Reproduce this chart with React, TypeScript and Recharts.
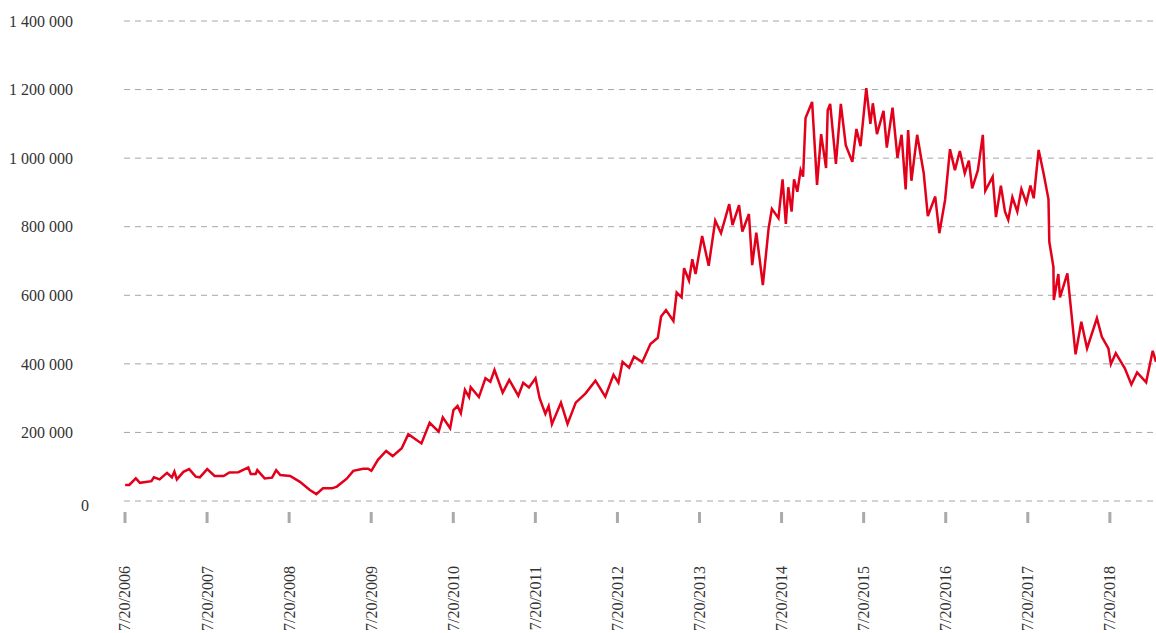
import { LineChart, Line, XAxis, YAxis, CartesianGrid } from 'recharts';

// decimal years (7/20/2006 = 2006.548)
const years = [
    2006.55, 2006.6, 2006.68, 2006.73, 2006.87, 2006.9, 2006.97, 2007.06, 2007.12, 2007.15, 2007.18, 2007.26, 2007.33, 2007.41, 2007.46, 2007.55, 2007.64, 2007.75, 2007.82, 2007.93,
    2008.05, 2008.08, 2008.14, 2008.16, 2008.25, 2008.34, 2008.39, 2008.44, 2008.56, 2008.68, 2008.8, 2008.88, 2008.96, 2009.07, 2009.13, 2009.25, 2009.33, 2009.45, 2009.51, 2009.55,
    2009.63, 2009.73, 2009.81, 2009.92, 2010.0, 2010.16, 2010.26, 2010.37, 2010.42, 2010.51, 2010.55, 2010.6, 2010.64, 2010.69, 2010.74, 2010.76, 2010.86, 2010.94, 2011.0, 2011.05,
    2011.15, 2011.23, 2011.34, 2011.4, 2011.47, 2011.55, 2011.6, 2011.67, 2011.71, 2011.75, 2011.86, 2011.94, 2012.04, 2012.16, 2012.28, 2012.4, 2012.5, 2012.56, 2012.61, 2012.69,
    2012.75, 2012.85, 2012.95, 2013.04, 2013.08, 2013.14, 2013.23, 2013.27, 2013.33, 2013.36, 2013.42, 2013.46, 2013.5, 2013.58, 2013.66, 2013.74, 2013.81, 2013.91, 2013.95, 2014.03,
    2014.07, 2014.15, 2014.19, 2014.24, 2014.32, 2014.39, 2014.43, 2014.51, 2014.56, 2014.6, 2014.63, 2014.67, 2014.7, 2014.74, 2014.78, 2014.81, 2014.84, 2014.92, 2014.98, 2015.03,
    2015.09, 2015.11, 2015.14, 2015.21, 2015.27, 2015.33, 2015.41, 2015.46, 2015.51, 2015.58, 2015.63, 2015.66, 2015.71, 2015.79, 2015.83, 2015.9, 2015.96, 2016.01, 2016.06, 2016.09,
    2016.13, 2016.2, 2016.28, 2016.33, 2016.42, 2016.47, 2016.54, 2016.6, 2016.66, 2016.72, 2016.78, 2016.83, 2016.87, 2016.94, 2017.0, 2017.03, 2017.12, 2017.16, 2017.22, 2017.27,
    2017.31, 2017.36, 2017.42, 2017.47, 2017.53, 2017.58, 2017.62, 2017.68, 2017.74, 2017.8, 2017.81, 2017.86, 2017.865, 2017.92, 2017.94, 2018.03, 2018.13, 2018.2, 2018.27, 2018.39,
    2018.45, 2018.53, 2018.56, 2018.62, 2018.73, 2018.81, 2018.88, 2018.99, 2019.07, 2019.11,
];

const values = [
    47000, 47000, 66000, 53000, 58000, 69000, 63000, 82000, 69000, 86000, 63000, 85000, 93000, 71000, 69000, 93000, 73000, 73000, 83000, 84000,
    98000, 79000, 79000, 90000, 66000, 68000, 90000, 76000, 73000, 56000, 32000, 20000, 37000, 37000, 42000, 65000, 88000, 94000, 94000, 88000,
    120000, 146000, 131000, 154000, 195000, 168000, 228000, 202000, 244000, 212000, 265000, 277000, 256000, 324000, 303000, 332000, 303000, 358000, 348000, 382000,
    316000, 353000, 307000, 345000, 331000, 358000, 300000, 254000, 277000, 224000, 287000, 225000, 287000, 314000, 351000, 304000, 368000, 345000, 406000, 389000,
    421000, 405000, 458000, 476000, 538000, 557000, 525000, 608000, 594000, 679000, 643000, 705000, 662000, 773000, 686000, 818000, 781000, 866000, 805000, 863000,
    786000, 837000, 688000, 783000, 630000, 795000, 852000, 825000, 938000, 808000, 915000, 844000, 938000, 902000, 965000, 946000, 1117000, 1164000, 922000, 1070000,
    971000, 1140000, 1158000, 983000, 1158000, 1038000, 989000, 1085000, 1035000, 1204000, 1100000, 1160000, 1070000, 1138000, 1031000, 1147000, 1001000, 1068000, 909000, 1082000,
    934000, 1068000, 956000, 831000, 888000, 781000, 878000, 1026000, 965000, 1021000, 956000, 993000, 912000, 965000, 1068000, 905000, 946000, 828000, 920000, 844000,
    820000, 886000, 844000, 910000, 870000, 920000, 883000, 1024000, 956000, 880000, 756000, 683000, 586000, 662000, 594000, 664000, 428000, 523000, 445000, 533000,
    479000, 445000, 399000, 431000, 387000, 340000, 375000, 346000, 438000, 406000,
];

const xTicks = [2006.548, 2007.548, 2008.548, 2009.548, 2010.548, 2011.548, 2012.548, 2013.548, 2014.548, 2015.548, 2016.548, 2017.548, 2018.548];
const xTickLabels = ['7/20/2006', '7/20/2007', '7/20/2008', '7/20/2009', '7/20/2010', '7/20/2011', '7/20/2012', '7/20/2013', '7/20/2014', '7/20/2015', '7/20/2016', '7/20/2017', '7/20/2018'];

const yTicks = [0, 200000, 400000, 600000, 800000, 1000000, 1200000, 1400000];
const yTickLabels = ['0', '200 000', '400 000', '600 000', '800 000', '1 000 000', '1 200 000', '1 400 000'];

const data = years.map((y, i) => ({ year: y, value: values[i] }));

const FONT = '"Liberation Serif", serif';

const XTick = (props: any) => {
    const { x, payload, index } = props;
    const tx = x + 5.5;
    const ty = 566;
    return (
        <g>
            <line x1={x} x2={x} y1={512} y2={523} stroke="#aaa" strokeWidth={3} />
            <text
                x={tx}
                y={ty}
                transform={`rotate(-90 ${tx} ${ty})`}
                textAnchor="end"
                fontFamily={FONT}
                fontSize={16}
                fill="#333"
            >
                {xTickLabels[index] ?? payload.value}
            </text>
        </g>
    );
};

const YTick = (props: any) => {
    const { y, index } = props;
    const isZero = index === 0;
    return (
        <text
            x={isZero ? 89 : 73}
            y={isZero ? y + 4 : y}
            dy="0.355em"
            textAnchor="end"
            fontFamily={FONT}
            fontSize={16}
            fill="#333"
        >
            {yTickLabels[index]}
        </text>
    );
};

export default function App() {
    return (
        <div style={{ position: 'absolute', left: 0, top: 0, background: '#fff' }}>
            <LineChart width={1156} height={633} data={data} margin={{ top: 21, right: 0, bottom: 0, left: 0 }}>
                <CartesianGrid vertical={false} stroke="#a6a6a6" strokeDasharray="6 5" />
                <XAxis
                    dataKey="year"
                    type="number"
                    domain={[2006.536, 2019.109]}
                    ticks={xTicks}
                    interval={0}
                    height={132}
                    axisLine={false}
                    tickLine={false}
                    tick={<XTick />}
                />
                <YAxis
                    type="number"
                    domain={[0, 1400000]}
                    ticks={yTicks}
                    interval={0}
                    width={124}
                    axisLine={false}
                    tickLine={false}
                    tick={<YTick />}
                />
                <Line
                    type="linear"
                    dataKey="value"
                    stroke="#e2001a"
                    strokeWidth={2.5}
                    dot={false}
                    isAnimationActive={false}
                />
            </LineChart>
        </div>
    );
}
